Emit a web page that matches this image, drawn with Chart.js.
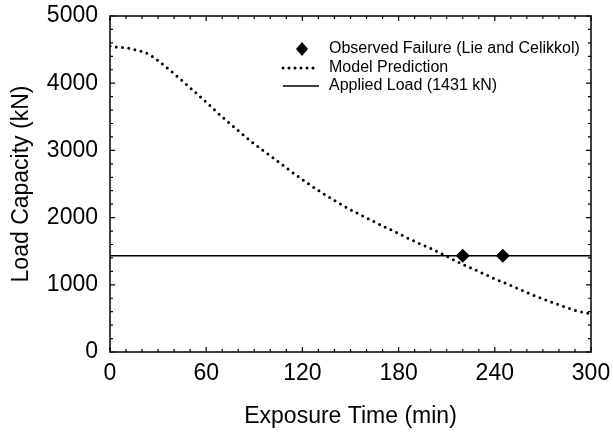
<!DOCTYPE html>
<html>
<head>
<meta charset="utf-8">
<script src="https://cdn.jsdelivr.net/npm/chart.js@4.4.0/dist/chart.umd.min.js"></script>
<style>
  html, body { margin: 0; padding: 0; background: #fff; }
  #wrap { width: 613px; height: 434px; }
</style>
</head>
<body>
<div id="wrap"><canvas id="chart"></canvas></div>
<script>
const modelTimes = [0, 5, 10, 15, 20, 25, 30, 40, 50, 60, 70, 80, 90, 100, 110, 120, 130, 140, 150,
  160, 170, 180, 190, 200, 210, 220, 230, 240, 250, 260, 270, 280, 290, 300];
const modelLoads = [4554, 4536, 4527, 4502, 4472, 4420, 4335, 4140, 3932, 3717, 3498, 3294, 3096, 2921,
  2740, 2565, 2403, 2255, 2118, 1995, 1877, 1762, 1646, 1541, 1425, 1305, 1198, 1089, 990, 885, 790, 703, 620, 565];
const failureTimes = [220, 245];
const failureLoads = [1431, 1431];
const appliedLoad = 1431;
const xTicks = [0, 60, 120, 180, 240, 300];
const yTicks = [0, 1000, 2000, 3000, 4000, 5000];

const labels = ["Observed Failure (Lie and Celikkol)", "Model Prediction", "Applied Load (1431 kN)"];
const font = "'Liberation Sans', Arial, sans-serif";

const modelData = modelTimes.map((t, i) => ({ x: t, y: modelLoads[i] }));
const failureData = failureTimes.map((t, i) => ({ x: t, y: failureLoads[i] }));
const loadData = [{ x: xTicks[0], y: appliedLoad }, { x: xTicks[xTicks.length - 1], y: appliedLoad }];

// frame + inward ticks on all four sides
const frameTicks = {
  id: "frameTicks",
  afterDraw(chart) {
    const { ctx, chartArea: a, scales } = chart;
    ctx.save();
    ctx.strokeStyle = "#000";
    ctx.lineWidth = 1.5;
    ctx.strokeRect(a.left, a.top, a.right - a.left, a.bottom - a.top);
    ctx.lineWidth = 1.2;
    ctx.beginPath();
    for (let v = 0; v <= 300; v += 10) {
      const px = scales.x.getPixelForValue(v);
      const len = v % 60 === 0 ? 5 : 3;
      ctx.moveTo(px, a.bottom); ctx.lineTo(px, a.bottom - len);
      ctx.moveTo(px, a.top); ctx.lineTo(px, a.top + len);
    }
    for (let v = 0; v <= 5000; v += 200) {
      const py = scales.y.getPixelForValue(v);
      const len = v % 1000 === 0 ? 5 : 3;
      ctx.moveTo(a.left, py); ctx.lineTo(a.left + len, py);
      ctx.moveTo(a.right, py); ctx.lineTo(a.right - len, py);
    }
    ctx.stroke();
    ctx.restore();
  }
};

// legend inside the plot, top right
const insideLegend = {
  id: "insideLegend",
  afterDraw(chart) {
    const { ctx, chartArea: a } = chart;
    const x0 = a.left + 173, textX = a.left + 219;
    const rows = [a.top + 33, a.top + 52, a.top + 70];
    ctx.save();
    ctx.fillStyle = "#000";
    ctx.strokeStyle = "#000";
    // diamond
    const cx = a.left + 192, cy = rows[0], r = 7;
    ctx.beginPath();
    ctx.moveTo(cx, cy - r); ctx.lineTo(cx + r - 1, cy); ctx.lineTo(cx, cy + r); ctx.lineTo(cx - r + 1, cy);
    ctx.closePath(); ctx.fill();
    // dotted
    ctx.lineWidth = 3; ctx.lineCap = "round"; ctx.setLineDash([0, 6]);
    ctx.beginPath(); ctx.moveTo(x0, rows[1]); ctx.lineTo(x0 + 31, rows[1]); ctx.stroke();
    // solid
    ctx.setLineDash([]); ctx.lineCap = "butt"; ctx.lineWidth = 1.5;
    ctx.beginPath(); ctx.moveTo(x0, rows[2]); ctx.lineTo(x0 + 36, rows[2]); ctx.stroke();
    ctx.font = "16px " + font;
    ctx.textBaseline = "middle";
    labels.forEach((l, i) => ctx.fillText(l, textX, rows[i]));
    ctx.restore();
  }
};

new Chart(document.getElementById("chart"), {
  type: "scatter",
  data: {
    datasets: [
      {
        label: labels[0],
        data: failureData,
        pointStyle: "rectRot",
        pointRadius: 7,
        pointHoverRadius: 7,
        backgroundColor: "#000",
        borderColor: "#000",
        borderWidth: 0,
        showLine: false
      },
      {
        label: labels[1],
        data: modelData,
        showLine: true,
        borderColor: "#000",
        borderWidth: 3,
        borderDash: [0, 6.3],
        borderCapStyle: "round",
        cubicInterpolationMode: "monotone",
        pointRadius: 0,
        fill: false
      },
      {
        label: labels[2],
        data: loadData,
        showLine: true,
        borderColor: "#000",
        borderWidth: 1.5,
        pointRadius: 0,
        fill: false
      }
    ]
  },
  options: {
    responsive: true,
    maintainAspectRatio: false,
    animation: false,
    layout: { padding: { top: 16, right: 22, left: 0, bottom: 0 } },
    plugins: {
      legend: { display: false },
      tooltip: { enabled: false }
    },
    scales: {
      x: {
        type: "linear",
        min: 0,
        max: 300,
        afterBuildTicks: (s) => { s.ticks = xTicks.map((v) => ({ value: v })); },
        afterFit: (s) => { s.height = 82; s.paddingLeft = 0; s.paddingRight = 0; },
        grid: { display: false, drawTicks: false },
        border: { display: false },
        ticks: { color: "#000", font: { family: font, size: 23 }, padding: 8, maxRotation: 0, callback: (v) => String(v) },
        title: { display: true, text: "Exposure Time (min)", color: "#000", font: { family: font, size: 23 }, padding: { top: 12 } }
      },
      y: {
        type: "linear",
        min: 0,
        max: 5000,
        afterBuildTicks: (s) => { s.ticks = yTicks.map((v) => ({ value: v })); },
        afterFit: (s) => { s.width = 110; s.paddingTop = 0; s.paddingBottom = 0; },
        grid: { display: false, drawTicks: false },
        border: { display: false },
        ticks: { color: "#000", font: { family: font, size: 23 }, padding: 12, callback: (v) => String(v) },
        title: { display: true, text: "Load Capacity (kN)", color: "#000", font: { family: font, size: 23 }, padding: { top: 8, bottom: 0 } }
      }
    }
  },
  plugins: [frameTicks, insideLegend]
});
</script>
</body>
</html>
